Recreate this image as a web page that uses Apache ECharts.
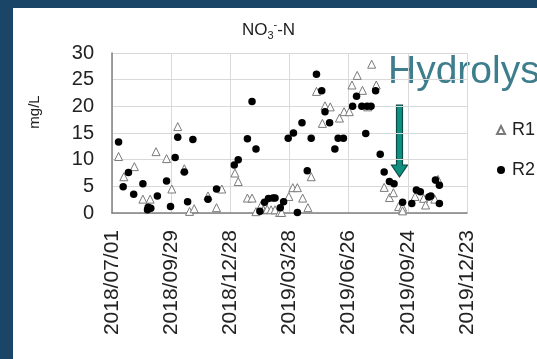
<!DOCTYPE html>
<html><head><meta charset="utf-8">
<script src="https://cdn.jsdelivr.net/npm/echarts@6/dist/echarts.min.js"></script>
<style>
html,body{margin:0;padding:0;background:#fff;}
#c{position:absolute;left:0;top:0;width:537px;height:359px;}
.b{position:absolute;background:#1b4566;}
</style></head>
<body>
<div id="c"></div>
<div class="b" style="left:0;top:0;width:13px;height:359px"></div>
<div class="b" style="left:0;top:0;width:537px;height:8px"></div>
<script>
const startDate = '2018-07-01';
const tickDays = [0, 90, 180, 270, 360, 450, 540];

const r1Dates = ['2018-07-11','2018-07-19','2018-08-04','2018-08-17','2018-08-28','2018-09-06','2018-09-22','2018-09-30','2018-10-09','2018-10-19','2018-10-27','2018-11-03','2018-11-24','2018-12-07','2018-12-15','2019-01-04','2019-01-09','2019-01-23','2019-01-30','2019-02-05','2019-02-13','2019-02-16','2019-02-22','2019-02-28','2019-03-06','2019-03-13','2019-03-16','2019-03-27','2019-04-02','2019-04-09','2019-04-17','2019-04-25','2019-04-30','2019-05-08','2019-05-17','2019-05-21','2019-05-29','2019-06-12','2019-06-19','2019-06-27','2019-07-01','2019-07-09','2019-07-17','2019-07-25','2019-07-31','2019-08-07','2019-08-19','2019-08-27','2019-09-02','2019-09-10','2019-09-16','2019-09-16','2019-10-05','2019-10-18','2019-10-21','2019-11-04','2019-11-09'];
const r1Values = [10.6,6.8,8.7,2.6,2.6,11.5,10.2,4.5,16.2,8.3,0.3,0.8,3.2,1.0,4.5,7.5,5.9,2.8,2.8,0.25,1.5,0.6,0.7,0.6,0.6,0.1,0.1,3.1,4.75,4.75,2.8,1.0,6.8,22.8,16.8,20.1,19.9,17.8,19.0,19.0,24.0,25.8,23.0,19.9,27.9,24.0,4.8,2.9,3.8,1.2,1.1,0.4,3.1,2.75,1.5,2.6,6.3];

const r2Dates = ['2018-07-11','2018-07-18','2018-07-26','2018-08-03','2018-08-17','2018-08-24','2018-08-25','2018-08-29','2018-09-08','2018-09-22','2018-09-28','2018-10-05','2018-10-09','2018-10-19','2018-10-24','2018-11-01','2018-11-24','2018-12-07','2019-01-03','2019-01-09','2019-01-23','2019-01-30','2019-02-05','2019-02-11','2019-02-18','2019-02-24','2019-03-03','2019-03-06','2019-03-14','2019-03-19','2019-03-26','2019-04-03','2019-04-09','2019-04-16','2019-04-24','2019-04-30','2019-05-08','2019-05-16','2019-05-21','2019-05-28','2019-06-05','2019-06-10','2019-06-18','2019-07-02','2019-07-08','2019-07-16','2019-07-22','2019-07-24','2019-07-30','2019-08-06','2019-08-13','2019-08-19','2019-08-27','2019-09-03','2019-09-16','2019-09-30','2019-10-07','2019-10-13','2019-10-26','2019-10-29','2019-11-05','2019-11-11','2019-11-11'];
const r2Values = [13.3,4.9,7.6,3.5,5.5,0.6,1.1,0.9,3.2,6.0,1.2,10.4,14.2,7.7,2.1,13.8,2.6,4.5,9.0,10.0,13.9,20.9,12.0,0.35,2.0,2.7,2.8,2.8,1.0,2.1,14.0,15.0,0.1,16.9,7.9,14.0,26.0,22.9,19.0,16.9,12.0,14.0,14.0,20.0,21.9,20.0,14.9,20.0,20.0,22.9,11.0,7.7,5.9,5.5,2.0,1.8,4.3,4.0,3.0,3.2,6.2,1.8,5.2];

const DAY = 86400000;
const t0 = Date.parse(startDate);
const toDay = d => (Date.parse(d) - t0) / DAY;
const fmt = v => { const d = new Date(t0 + v * DAY); const p = n => String(n).padStart(2, '0');
  return d.getUTCFullYear() + '/' + p(d.getUTCMonth() + 1) + '/' + p(d.getUTCDate()); };

const chart = echarts.init(document.getElementById('c'));
const font = 'Liberation Sans, Arial, sans-serif';
chart.setOption({
  backgroundColor: '#fff',
  animation: false,
  textStyle: { fontFamily: font },
  title: {
    text: 'NO{sub|3}{sup|-}-N', left: 'center', top: 14,
    textStyle: { fontFamily: font, fontSize: 17, fontWeight: 'normal', color: '#222', lineHeight: 22,
      rich: { sub: { fontSize: 11, lineHeight: 11, verticalAlign: 'bottom', color: '#222', fontFamily: font },
              sup: { fontSize: 11, lineHeight: 11, verticalAlign: 'top', color: '#222', fontFamily: font } } }
  },
  legend: {
    orient: 'vertical', left: 491, top: 116, itemGap: 22, itemWidth: 8, itemHeight: 8,
    textStyle: { fontSize: 18, color: '#222', fontFamily: font, padding: [0, 0, 0, 2] },
    data: ['R1', 'R2']
  },
  grid: { left: 112, right: 70, top: 53, bottom: 146 },
  xAxis: {
    type: 'value', min: tickDays[0], max: tickDays[tickDays.length - 1], interval: 90,
    axisLine: { lineStyle: { color: '#808080', width: 1.5 } },
    axisTick: { show: false },
    splitLine: { show: true, lineStyle: { color: '#d9d9d9', width: 1 } },
    axisLabel: { rotate: 90, margin: 17, fontSize: 21, color: '#222', fontFamily: font, formatter: fmt }
  },
  yAxis: {
    type: 'value', min: 0, max: 30, interval: 5,
    axisLine: { show: true, lineStyle: { color: '#808080', width: 1.5 } },
    axisTick: { show: false },
    splitLine: { lineStyle: { color: '#d9d9d9', width: 1 } },
    axisLabel: { margin: 18, fontSize: 20, color: '#222', fontFamily: font }
  },
  graphic: [
    { type: 'text', x: 35, y: 112, rotation: Math.PI / 2,
      style: { text: 'mg/L', fontSize: 15, fill: '#222', fontFamily: font, align: 'center', verticalAlign: 'middle' } },
    { type: 'text', x: 388, y: 72,
      style: { text: 'Hydrolysis', fontSize: 39, fill: '#3e7d8c', fontFamily: font, align: 'left', verticalAlign: 'middle' } },
    { type: 'polygon',
      shape: { points: [[396.5,105],[402.5,105],[402.5,165],[407.5,165],[399.5,177],[391.5,165],[396.5,165]] },
      style: { fill: '#0f8f7d', stroke: '#0b4a45', lineWidth: 1.2 } }
  ],
  series: [
    { name: 'R1', type: 'scatter', symbol: 'triangle', symbolSize: 8,
      itemStyle: { color: '#fff', borderColor: '#7a7a7a', borderWidth: 1, opacity: 1 },
      data: r1Dates.map((d, i) => [toDay(d), r1Values[i]]) },
    { name: 'R2', type: 'scatter', symbol: 'circle', symbolSize: 7.5,
      itemStyle: { color: '#000', opacity: 1 },
      data: r2Dates.map((d, i) => [toDay(d), r2Values[i]]) }
  ]
});
</script>
</body></html>
